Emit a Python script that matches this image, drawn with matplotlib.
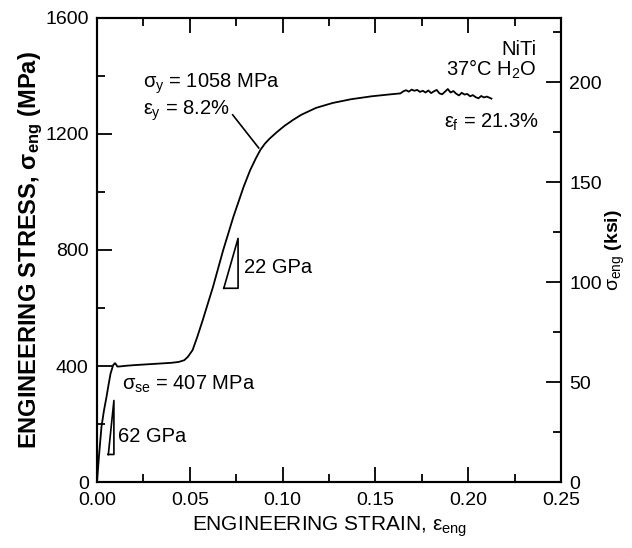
import matplotlib
matplotlib.use('Agg')
import matplotlib.pyplot as plt
from matplotlib.ticker import MultipleLocator

plt.rcParams['font.family'] = ['Liberation Sans', 'DejaVu Sans']
plt.rcParams['mathtext.fontset'] = 'custom'
plt.rcParams['mathtext.rm'] = 'Liberation Sans'
plt.rcParams['mathtext.it'] = 'Liberation Sans'
plt.rcParams['mathtext.bf'] = 'Liberation Sans:bold'

# stress-strain curve (strain, MPa)
strain = [0, 0.001, 0.0024, 0.0037, 0.0051, 0.0062, 0.0073, 0.0087, 0.0097, 0.0104,
          0.011, 0.013, 0.016, 0.020, 0.025, 0.030, 0.035, 0.040, 0.044, 0.047,
          0.049, 0.0515, 0.054, 0.057, 0.0625, 0.068, 0.0735, 0.079, 0.0825, 0.0855,
          0.088, 0.0905, 0.093, 0.097, 0.101, 0.1055, 0.110, 0.118, 0.127, 0.137,
          0.148, 0.157, 0.1635,
          0.165, 0.1665, 0.168, 0.1695, 0.171, 0.1725, 0.174, 0.1755, 0.177, 0.1785,
          0.180, 0.1815, 0.183, 0.1845, 0.186, 0.1875, 0.189, 0.1905, 0.192, 0.1935,
          0.195, 0.1965, 0.198, 0.1995, 0.201, 0.2025, 0.204, 0.2055, 0.207, 0.2085,
          0.210, 0.2115, 0.2125]
stress = [0, 85, 190, 245, 293, 335, 374, 403, 410, 404,
          398, 399, 401, 403, 405, 407, 409, 411, 414, 420,
          432, 455, 500, 559, 673, 800, 915, 1018, 1075, 1115,
          1145, 1167, 1184, 1207, 1228, 1248, 1266, 1290, 1307, 1320,
          1330, 1336, 1340,
          1347, 1351, 1346, 1353, 1349, 1352, 1345, 1349, 1343, 1350,
          1341, 1347, 1352, 1340, 1337, 1346, 1355, 1343, 1348, 1339,
          1333, 1342, 1336, 1338, 1330, 1334, 1327, 1323, 1331, 1326,
          1329, 1325, 1322]

# modulus triangles: (x_left, x_right, y_bottom, y_top)
tri_62 = (0.0061, 0.0091, 95, 281)
tri_22 = (0.0683, 0.0760, 668, 840)

MPA_PER_KSI = 6.894757

fig = plt.figure(figsize=(6.32, 5.48), dpi=100)
ax = fig.add_axes([0.1535, 0.1204, 0.7342, 0.8468])

ax.plot(strain, stress, color='black', lw=1.3)

for xl, xr, yb, yt in [tri_62, tri_22]:
    ax.plot([xl, xr, xr, xl], [yb, yb, yt, yb], color='black', lw=1.2)

# leader line for yield point
ax.plot([0.0731, 0.0871], [1266, 1152], color='black', lw=1.2)

fs = 14.5
ax.text(0.0247, 1358, r'$\sigma_\mathregular{y}$ = 1058 MPa', fontsize=fs, va='baseline')
ax.text(0.0247, 1266, r'$\varepsilon_\mathregular{y}$ = 8.2%', fontsize=fs, va='baseline')
ax.text(0.237, 1472, 'NiTi', fontsize=fs, ha='right', va='baseline')
ax.text(0.237, 1400, r'37°C H$_\mathregular{2}$O', fontsize=fs, ha='right', va='baseline')
ax.text(0.238, 1221, r'$\varepsilon_\mathregular{f}$ = 21.3%', fontsize=fs, ha='right', va='baseline')
ax.text(0.0134, 317, r'$\sigma_\mathregular{se}$ = 407 MPa', fontsize=fs, va='baseline')
ax.text(0.0113, 138, '62 GPa', fontsize=fs, va='baseline')
ax.text(0.079, 721, '22 GPa', fontsize=fs, va='baseline')

ax.set_xlim(0, 0.25)
ax.set_ylim(0, 1600)
ax.xaxis.set_major_locator(MultipleLocator(0.05))
ax.xaxis.set_minor_locator(MultipleLocator(0.025))
ax.yaxis.set_major_locator(MultipleLocator(400))
ax.yaxis.set_minor_locator(MultipleLocator(200))
ax.xaxis.set_major_formatter(plt.FuncFormatter(lambda v, p: f'{v:.2f}'))
ax.tick_params(which='both', direction='in', top=True, right=False, width=1.3,
               labelsize=14, pad=6)
ax.tick_params(axis='x', pad=7)
ax.tick_params(which='major', length=11)
ax.tick_params(which='minor', length=6)
for s in ax.spines.values():
    s.set_linewidth(1.5)

ax.set_xlabel(r'ENGINEERING STRAIN, $\varepsilon_\mathregular{eng}$', fontsize=15, labelpad=4)
ax.set_ylabel(r'ENGINEERING STRESS, $\mathbf{\sigma_{eng}}$ (MPa)', fontsize=17,
              fontweight='bold')
ax.yaxis.set_label_coords(-0.112, 0.5)

ax2 = ax.twinx()
ax2.set_ylim(0, 1600 / MPA_PER_KSI)
ax2.yaxis.set_major_locator(MultipleLocator(50))
ax2.yaxis.set_minor_locator(MultipleLocator(25))
ax2.tick_params(which='both', direction='in', width=1.3, labelsize=14, pad=6)
ax2.tick_params(which='major', length=11)
ax2.tick_params(which='minor', length=6)
for s in ax2.spines.values():
    s.set_linewidth(1.5)
ax2.set_ylabel(r'$\sigma_\mathregular{eng}$ $\mathbf{(ksi)}$', fontsize=14)
ax2.yaxis.set_label_coords(1.092, 0.5)

fig.savefig('out.png', dpi=100)
